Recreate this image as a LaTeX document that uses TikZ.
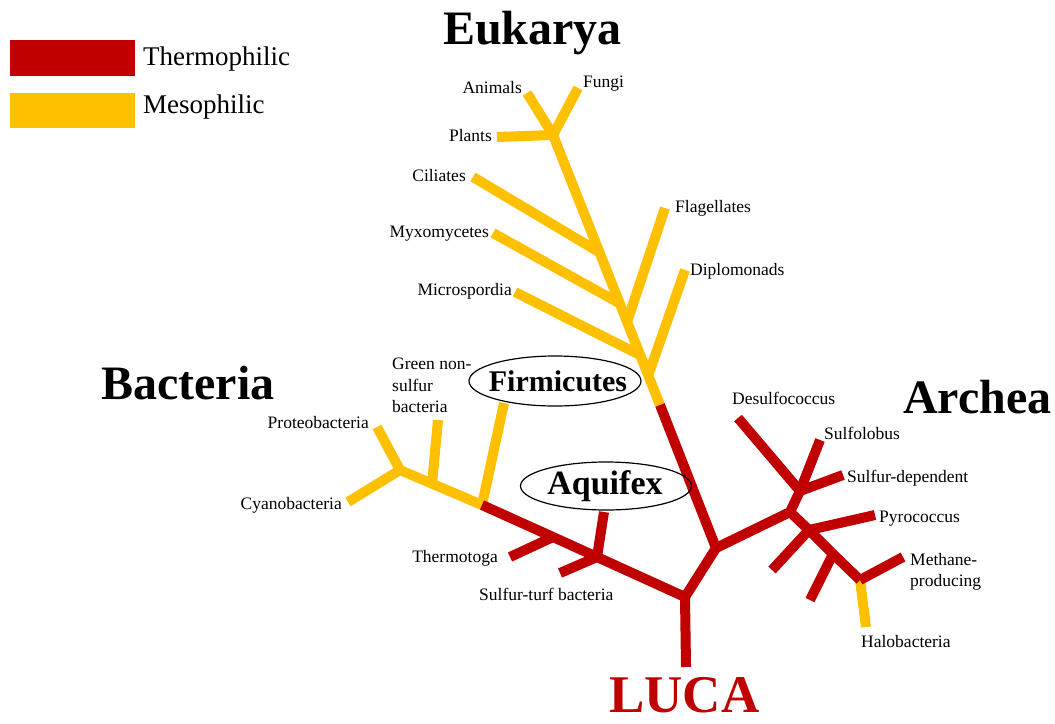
\documentclass[tikz,border=0pt]{standalone}
\usepackage{fontspec}
\setmainfont{Liberation Serif}
\usetikzlibrary{shapes.geometric}
\definecolor{thermored}{HTML}{C00000}
\definecolor{mesoyellow}{HTML}{FFC000}
\begin{document}
\begin{tikzpicture}[x=1pt,y=-1pt,
  thermo/.style={draw=thermored, line width=10pt, line cap=butt, line join=miter},
  meso/.style={draw=mesoyellow, line width=10pt, line cap=butt, line join=miter},
  lbl/.style={font=\fontsize{17.5}{21}\selectfont, inner sep=0pt},
  legtxt/.style={font=\fontsize{27}{32}\selectfont, inner sep=0pt, anchor=base west},
  domlbl/.style={font=\fontsize{48}{56}\selectfont\bfseries, inner sep=0pt, anchor=base west},
  oval/.style={draw=black, line width=1.2pt, ellipse, inner sep=0pt},
  ovaltxt/.style={inner sep=0pt, anchor=base}]
\useasboundingbox (0,0) rectangle (1055,723);

% legend
\node[fill=thermored, minimum width=125pt, minimum height=36pt, inner sep=0pt, anchor=north west] (legT) at (10,40) {};
\node[fill=mesoyellow, minimum width=125pt, minimum height=35pt, inner sep=0pt, anchor=north west] (legM) at (10,93) {};
\node[legtxt] (legTt) at (143,65) {Thermophilic};
\node[legtxt] (legMt) at (143,113) {Mesophilic};

% coordinates
\coordinate (eA) at (527,93);
\coordinate (eF) at (578,88);
\coordinate (eP) at (497,137);
\coordinate (e0) at (553,135);
\coordinate (eCj) at (599,252);
\coordinate (eMj) at (619,303);
\coordinate (eFlj) at (627,322);
\coordinate (eMij) at (640,355);
\coordinate (eDj) at (648,376);
\coordinate (eRed) at (660,405);
\coordinate (eC) at (473,177);
\coordinate (eM) at (493,233);
\coordinate (eFl) at (665,208);
\coordinate (eMi) at (515,292);
\coordinate (eD) at (685,270);
\coordinate (root) at (716,548);
\coordinate (lj) at (685,597);
\coordinate (lb) at (686,667);
\coordinate (bSj) at (597,557);
\coordinate (bAq) at (604,512);
\coordinate (bS) at (560,573);
\coordinate (bTj) at (553,537);
\coordinate (bT) at (510,557);
\coordinate (bY) at (482,505);
\coordinate (bFi) at (504,403);
\coordinate (bGj) at (432,484);
\coordinate (bG) at (438,420);
\coordinate (bPj) at (400,470);
\coordinate (bPr) at (377,427);
\coordinate (bCy) at (348,502);
\coordinate (aA) at (790,512);
\coordinate (aB) at (800,491);
\coordinate (aDe) at (738,418);
\coordinate (aSo) at (820,440);
\coordinate (aSd) at (843,475);
\coordinate (aPj) at (809,530);
\coordinate (aPy) at (875,515);
\coordinate (aL1) at (772,570);
\coordinate (aL2j) at (833,554);
\coordinate (aL2) at (810,600);
\coordinate (aC) at (860,580);
\coordinate (aMe) at (903,557);
\coordinate (aHa) at (866,627);

% Eukarya (mesophilic)
\draw[meso] (eA) -- (e0);
\draw[meso] (eF) -- (e0);
\draw[meso] (eP) -- (e0);
\draw[meso] (e0) -- (eRed);
\draw[meso] (eC) -- (eCj);
\draw[meso] (eM) -- (eMj);
\draw[meso] (eFl) -- (eFlj);
\draw[meso] (eMi) -- (eMij);
\draw[meso] (eD) -- (eDj);

% Bacteria mesophilic part
\draw[meso] (bY) -- (bPj);
\draw[meso] (bFi) -- (bY);
\draw[meso] (bG) -- (bGj);
\draw[meso] (bPr) -- (bPj);
\draw[meso] (bCy) -- (bPj);

% Archea mesophilic
\draw[meso] (aC) -- (aHa);

% thermophilic
\draw[thermo] (eRed) -- (root);
\draw[thermo] (root) -- (lj);
\draw[thermo] (lj) -- (lb);
\draw[thermo] (lj) -- (bSj) -- (bTj) -- (bY);
\draw[thermo] (bSj) -- (bAq);
\draw[thermo] (bSj) -- (bS);
\draw[thermo] (bTj) -- (bT);
\draw[thermo] (root) -- (aA) -- (aB);
\draw[thermo] (aDe) -- (aB);
\draw[thermo] (aSo) -- (aB);
\draw[thermo] (aSd) -- (aB);
\draw[thermo] (aA) -- (aPj) -- (aL2j) -- (aC);
\draw[thermo] (aPj) -- (aPy);
\draw[thermo] (aPj) -- (aL1);
\draw[thermo] (aL2j) -- (aL2);
\draw[thermo] (aC) -- (aMe);

% ovals
\node[oval, minimum width=172pt, minimum height=50pt] (firmE) at (555,381) {};
\node[ovaltxt, font=\fontsize{30}{36}\selectfont\bfseries] (firm) at (558,391) {Firmicutes};
\node[oval, minimum width=171pt, minimum height=48pt] (aquiE) at (606,486) {};
\node[ovaltxt, font=\fontsize{34}{40}\selectfont\bfseries] (aqui) at (605,494) {Aquifex};

% domain labels
\node[domlbl] (euk) at (443,44) {Eukarya};
\node[domlbl] (bac) at (101,399) {Bacteria};
\node[domlbl] (arc) at (903,413) {Archea};
\node[domlbl, font=\fontsize{53}{60}\selectfont\bfseries, text=thermored] (luca) at (609,712) {LUCA};

% leaf labels
\node[lbl, anchor=base east] (tAn) at (522,93) {Animals};
\node[lbl, anchor=base west] (tFu) at (583,87) {Fungi};
\node[lbl, anchor=base east] (tPl) at (492,141) {Plants};
\node[lbl, anchor=base east] (tCi) at (466,181) {Ciliates};
\node[lbl, anchor=base east] (tMy) at (489,237) {Myxomycetes};
\node[lbl, anchor=base east] (tMi) at (512,295) {Microspordia};
\node[lbl, anchor=base west] (tFl) at (675,212) {Flagellates};
\node[lbl, anchor=base west] (tDi) at (690,275) {Diplomonads};
\node[lbl, anchor=base west] (tG1) at (392,369) {Green non-};
\node[lbl, anchor=base west] (tG2) at (392,391) {sulfur};
\node[lbl, anchor=base west] (tG3) at (392,412) {bacteria};
\node[lbl, anchor=base east] (tPr) at (369,428) {Proteobacteria};
\node[lbl, anchor=base east] (tCy) at (342,509) {Cyanobacteria};
\node[lbl, anchor=base east] (tTh) at (498,562) {Thermotoga};
\node[lbl, anchor=base west] (tSt) at (479,600) {Sulfur-turf bacteria};
\node[lbl, anchor=base west] (tDe) at (732,404) {Desulfococcus};
\node[lbl, anchor=base west] (tSo) at (824,439) {Sulfolobus};
\node[lbl, anchor=base west] (tSd) at (847,482) {Sulfur-dependent};
\node[lbl, anchor=base west] (tPy) at (879,522) {Pyrococcus};
\node[lbl, anchor=base west] (tMe1) at (910,565) {Methane-};
\node[lbl, anchor=base west] (tMe2) at (910,586) {producing};
\node[lbl, anchor=base west] (tHa) at (861,647) {Halobacteria};
\end{tikzpicture}
\end{document}
